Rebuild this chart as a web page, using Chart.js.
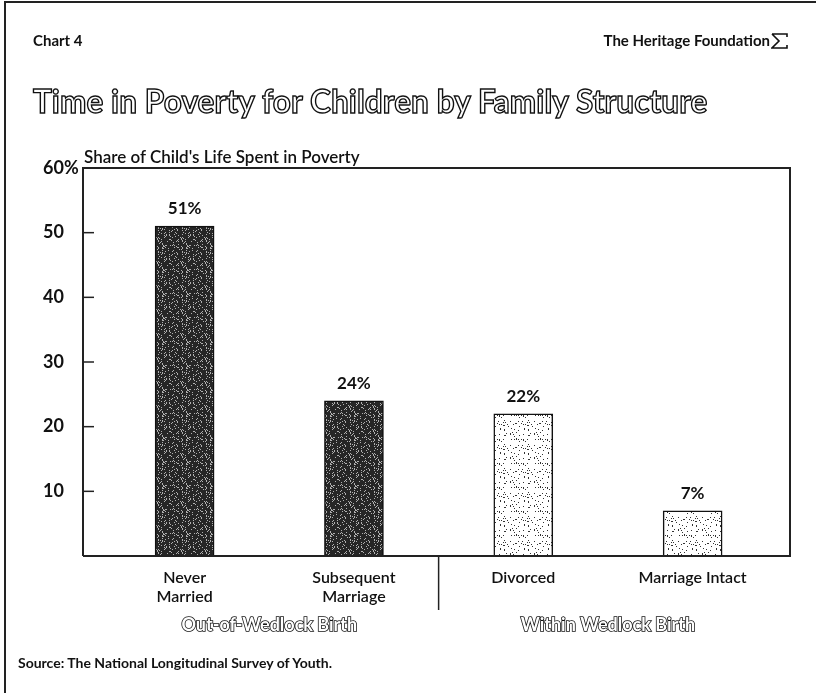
<!DOCTYPE html>
<html lang="en">
<head>
<meta charset="UTF-8">
<title>Time in Poverty for Children by Family Structure</title>
<script src="https://cdn.jsdelivr.net/npm/chart.js@4"></script>
<style>
  html, body { margin: 0; padding: 0; background: #fff; overflow: hidden; }
  .page { position: relative; width: 816px; height: 693px; overflow: hidden; font-family: Lato, "Open Sans", sans-serif; color: #111; }
  .frame { position: absolute; left: 4px; top: 1px; width: 900px; height: 800px; border-left: 2px solid #222; border-top: 2px solid #222; }
  canvas { position: absolute; left: 0; top: 0; }
  .txt { position: absolute; white-space: nowrap; }
  #chartNo { left: 33px; top: 31px; font-size: 15px; font-weight: 700; }
  #brand { right: 46px; top: 31px; font-size: 15px; font-weight: 700; }
  #logo { position: absolute; left: 771px; top: 33px; }
  #title { left: 33px; top: 82px; font-size: 31.5px; font-weight: 700; color: #fff; -webkit-text-stroke: 1.4px #111; letter-spacing: 0.1px; }
  #subtitle { left: 84px; top: 146px; font-size: 17px; font-weight: 600; }
  #source { left: 18px; top: 654px; font-size: 14px; font-weight: 700; }
</style>
</head>
<body>
<div class="page">
  <canvas id="chart" width="816" height="693"></canvas>
  <div class="frame"></div>
  <div class="txt" id="chartNo">Chart 4</div>
  <div class="txt" id="brand">The Heritage Foundation</div>
  <svg id="logo" width="17" height="16" viewBox="0 0 17 16">
    <path d="M1 1 H16 V4 M1 1 L8 8 L1 15 H16 V12" fill="none" stroke="#111" stroke-width="1.6"/>
  </svg>
  <div class="txt" id="title">Time in Poverty for Children by Family Structure</div>
  <div class="txt" id="subtitle">Share of Child's Life Spent in Poverty</div>
  <div class="txt" id="source">Source: The National Longitudinal Survey of Youth.</div>
</div>
<script>
// data
const categories = [['Never', 'Married'], ['Subsequent', 'Marriage'], 'Divorced', 'Marriage Intact'];
const values = [51, 24, 22, 7];
const groups = ['Out-of-Wedlock Birth', 'Within Wedlock Birth'];
const yTicks = [0, 10, 20, 30, 40, 50, 60];

// stipple textures for the bars (fixed seed so it looks the same every run)
function stipple(bg, dot, density, seed) {
  const c = document.createElement('canvas');
  c.width = 24; c.height = 24;
  const g = c.getContext('2d');
  g.fillStyle = bg;
  g.fillRect(0, 0, 24, 24);
  let s = seed;
  const next = () => { s = (s * 1103515245 + 12345) % 2147483648; return s / 2147483648; };
  g.fillStyle = dot;
  for (let i = 0; i < 24 * 24 * density; i++) {
    g.fillRect(Math.floor(next() * 24), Math.floor(next() * 24), 1, 1);
  }
  return g.createPattern(c, 'repeat');
}

const ctx = document.getElementById('chart').getContext('2d');
const darkFill = stipple('#262626', '#b0b0b0', 0.16, 7);
const lightFill = stipple('#ffffff', '#333333', 0.08, 11);
const fills = [darkFill, darkFill, lightFill, lightFill];

const labelFont = { family: 'Lato, sans-serif', size: 16, weight: '600' };

const decorations = {
  id: 'decorations',
  afterDraw(chart) {
    const { ctx, chartArea: a, scales: { x, y } } = chart;
    ctx.save();
    // plot box
    ctx.strokeStyle = '#222';
    ctx.lineWidth = 2;
    ctx.beginPath();
    ctx.moveTo(a.left, a.bottom);
    ctx.lineTo(a.left, a.top);
    ctx.lineTo(a.right, a.top);
    ctx.lineTo(a.right, a.bottom);
    ctx.lineTo(a.left, a.bottom);
    ctx.stroke();
    // inward tick marks
    ctx.lineWidth = 1.5;
    yTicks.slice(1, -1).forEach(v => {
      const py = y.getPixelForValue(v);
      ctx.beginPath();
      ctx.moveTo(a.left, py);
      ctx.lineTo(a.left + 11, py);
      ctx.stroke();
    });
    // group separator
    const sx = x.getPixelForValue(1.5);
    ctx.beginPath();
    ctx.moveTo(sx, a.bottom);
    ctx.lineTo(sx, a.bottom + 54);
    ctx.stroke();
    // value labels
    ctx.fillStyle = '#111';
    ctx.font = 'bold 17px Lato, sans-serif';
    ctx.textAlign = 'center';
    ctx.textBaseline = 'bottom';
    chart.getDatasetMeta(0).data.forEach((bar, i) => {
      ctx.fillText(values[i] + '%', bar.x, bar.y - 9);
    });
    // outlined group labels
    ctx.font = 'bold 18px Lato, sans-serif';
    ctx.textBaseline = 'middle';
    ctx.fillStyle = '#fff';
    ctx.strokeStyle = '#111';
    ctx.lineWidth = 1.6;
    groups.forEach((g, i) => {
      const gx = x.getPixelForValue(i * 2 + 0.5);
      ctx.strokeText(g, gx, a.bottom + 69);
      ctx.fillText(g, gx, a.bottom + 69);
    });
    ctx.restore();
  }
};

new Chart(ctx, {
  type: 'bar',
  data: {
    datasets: [{
      data: categories.map((c, i) => ({ x: i, y: values[i] })),
      backgroundColor: fills,
      borderColor: '#111',
      borderWidth: 1.5,
      barThickness: 59
    }]
  },
  options: {
    responsive: false,
    animation: false,
    layout: { padding: { left: 43, right: 26, top: 168, bottom: 0 } },
    plugins: { legend: { display: false }, tooltip: { enabled: false } },
    scales: {
      x: {
        type: 'linear',
        offset: false,
        min: -0.6,
        max: 3.575,
        grid: { display: false, drawTicks: false, offset: false },
        border: { display: false },
        afterBuildTicks: s => { s.ticks = categories.map((c, i) => ({ value: i })); },
        afterFit: s => { s.height = 137; },
        ticks: {
          autoSkip: false,
          maxRotation: 0,
          padding: 12,
          color: '#111',
          font: labelFont,
          callback: v => categories[v]
        }
      },
      y: {
        min: 0,
        max: 60,
        grid: { display: false, drawTicks: false },
        border: { display: false },
        afterFit: s => { s.width = 40; },
        afterBuildTicks: s => { s.ticks = yTicks.map(v => ({ value: v })); },
        ticks: {
          crossAlign: 'far',
          color: '#111',
          font: { family: 'Lato, sans-serif', size: 18, weight: 'bold' },
          callback: v => v === 0 ? '' : (v === 60 ? '60%' : v)
        }
      }
    }
  },
  plugins: [decorations]
});
</script>
</body>
</html>
